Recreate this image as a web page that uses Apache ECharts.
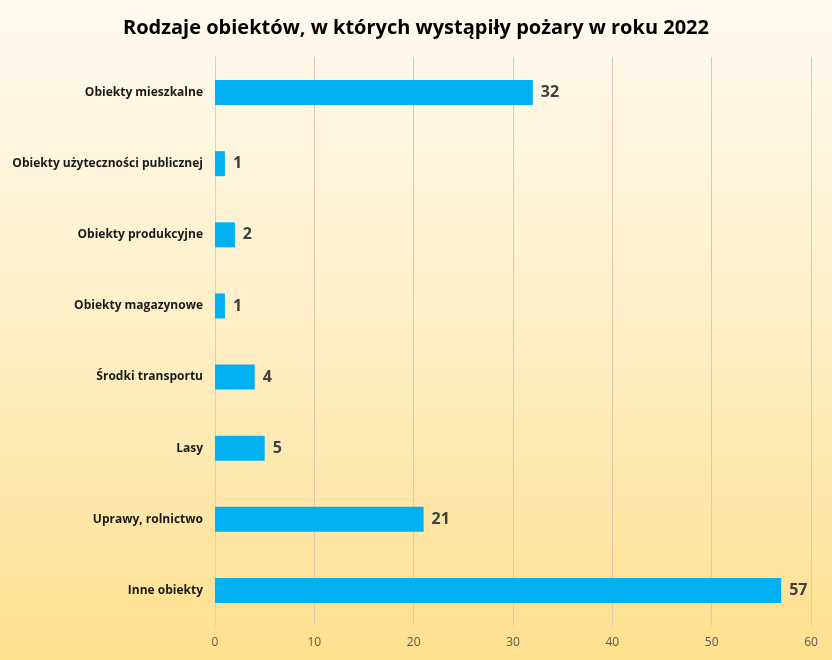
<!DOCTYPE html>
<html><head><meta charset="utf-8">
<script src="https://cdn.jsdelivr.net/npm/echarts@6/dist/echarts.min.js"></script>
<style>html,body{margin:0;padding:0;}#c{width:832px;height:660px;}</style>
</head><body><div id="c"></div>
<script>
var categories = ["Inne obiekty","Uprawy, rolnictwo","Lasy","Środki transportu","Obiekty magazynowe","Obiekty produkcyjne","Obiekty użyteczności publicznej","Obiekty mieszkalne"];
var values = [57,21,5,4,1,2,1,32];
var titleText = "Rodzaje obiektów, w których wystąpiły pożary w roku 2022";
var xTicks = {min:0,max:60,interval:10};

var chart = echarts.init(document.getElementById('c'));
chart.setOption({
  backgroundColor: new echarts.graphic.LinearGradient(0,0,0,1,[
    {offset:0,color:'#FFFAF0'},{offset:0.5,color:'#FEEFC6'},{offset:1,color:'#FDDF8E'}]),
  title:{text:titleText,left:'center',top:13,textStyle:{fontFamily:'Open Sans',fontWeight:'bold',fontSize:20,color:'#000'}},
  grid:{left:215,right:21,top:57,bottom:34,containLabel:false},
  xAxis:{type:'value',min:xTicks.min,max:xTicks.max,interval:xTicks.interval,
    axisLine:{show:false},axisTick:{show:false},
    axisLabel:{color:'#595959',fontFamily:'Open Sans',fontSize:12,margin:11},
    splitLine:{lineStyle:{color:'#E8C6AE',width:1}}},
  yAxis:{type:'category',data:categories,
    axisLine:{show:true,lineStyle:{color:'#D9D2C6'}},axisTick:{show:false},
    axisLabel:{color:'#1a1a1a',fontFamily:'Open Sans',fontWeight:'bold',fontSize:12,margin:12}},
  series:[{type:'bar',data:values,barWidth:25,itemStyle:{color:'#00B0F0'},
    label:{show:true,position:'right',distance:8,color:'#404040',fontFamily:'Open Sans',fontWeight:'bold',fontSize:16}}],
  animation:false
});
</script></body></html>
